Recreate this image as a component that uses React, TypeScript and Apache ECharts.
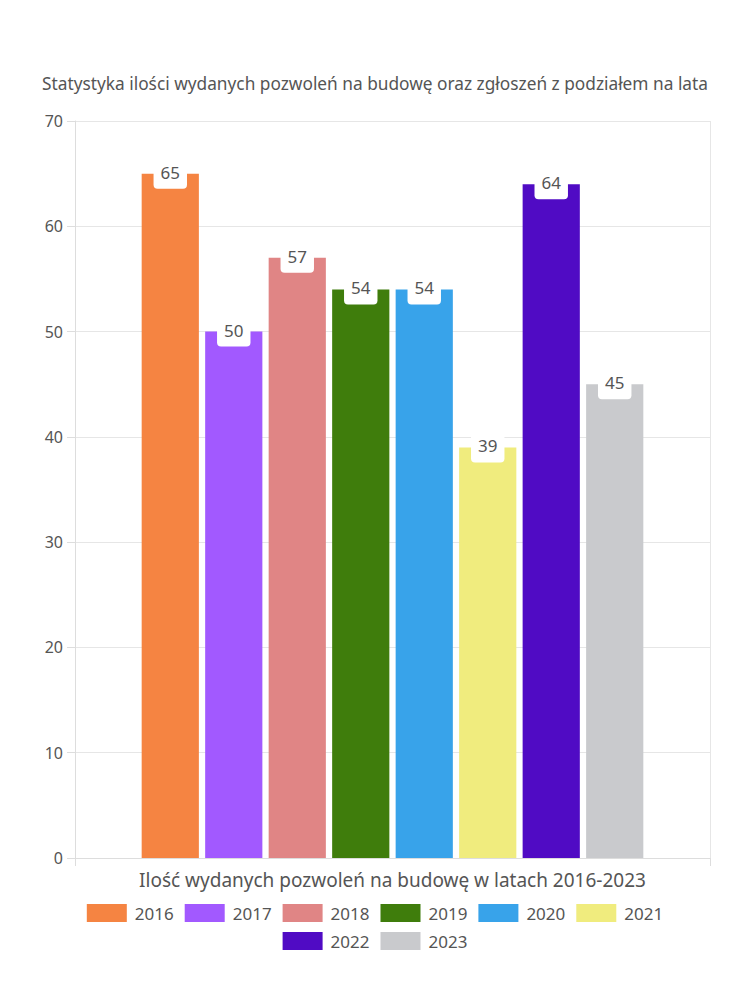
import React, { useEffect, useRef } from "react";
import * as echarts from "echarts";

const categories = ["Ilość wydanych pozwoleń na budowę w latach 2016-2023"];
const years = ["2016", "2017", "2018", "2019", "2020", "2021", "2022", "2023"];
const values = [65, 50, 57, 54, 54, 39, 64, 45];
const colors = ["#F58442", "#A259FF", "#E08585", "#3F7D0C", "#38A3EA", "#F0EC7E", "#500BC4", "#C9CACD"];
const titleText = "Statystyka ilości wydanych pozwoleń na budowę oraz zgłoszeń z podziałem na lata";
const legendRow1 = years.slice(0, 6);
const legendRow2 = years.slice(6);

const FONT = "'Noto Sans', sans-serif";
const TXT = "#555";

const legendBase = {
  left: "center",
  itemWidth: 40,
  itemHeight: 18,
  itemGap: 11,
  icon: "rect",
  textStyle: { fontSize: 17, color: TXT, fontFamily: FONT, padding: [0, 0, 0, 3] },
};

export default function App() {
  const ref = useRef<HTMLDivElement>(null);
  useEffect(() => {
    document.body.style.margin = "0";
    const chart = echarts.init(ref.current!, null, { renderer: "svg" });
    chart.setOption({
      animation: false,
      textStyle: { fontFamily: FONT },
      title: {
        text: titleText,
        left: "center",
        top: 70,
        textStyle: { fontSize: 17.3, fontWeight: "normal", color: TXT, fontFamily: FONT },
      },
      grid: { left: 75, right: 40, top: 121, bottom: 142 },
      xAxis: {
        type: "category",
        data: categories,
        axisLine: { lineStyle: { color: "#ddd" } },
        axisTick: { show: true, length: 8, lineStyle: { color: "#ddd" } },
        splitLine: { show: true, lineStyle: { color: "#e6e6e6" } },
        axisLabel: { fontSize: 19, color: TXT, margin: 12, fontFamily: FONT },
      },
      yAxis: {
        type: "value",
        min: 0,
        max: 70,
        interval: 10,
        axisLine: { show: true, lineStyle: { color: "#ddd" } },
        axisTick: { show: true, length: 8, lineStyle: { color: "#ddd" } },
        splitLine: { lineStyle: { color: "#e6e6e6" } },
        axisLabel: { fontSize: 16, color: TXT, margin: 12, fontFamily: FONT },
      },
      legend: [
        { ...legendBase, top: 899, data: legendRow1 },
        { ...legendBase, top: 927, data: legendRow2 },
      ],
      series: years.map((y, i) => ({
        name: y,
        type: "bar",
        data: [values[i]],
        barCategoryGap: "21%",
        barGap: "11%",
        itemStyle: { color: colors[i] },
        label: {
          show: true,
          position: "top",
          offset: [0, 20],
          fontSize: 17,
          color: TXT,
          fontFamily: FONT,
          backgroundColor: "#fff",
          borderRadius: 4,
          padding: [7, 7, 8, 7],
        },
      })),
    });
    return () => chart.dispose();
  }, []);
  return <div ref={ref} style={{ width: 750, height: 1000 }} />;
}
